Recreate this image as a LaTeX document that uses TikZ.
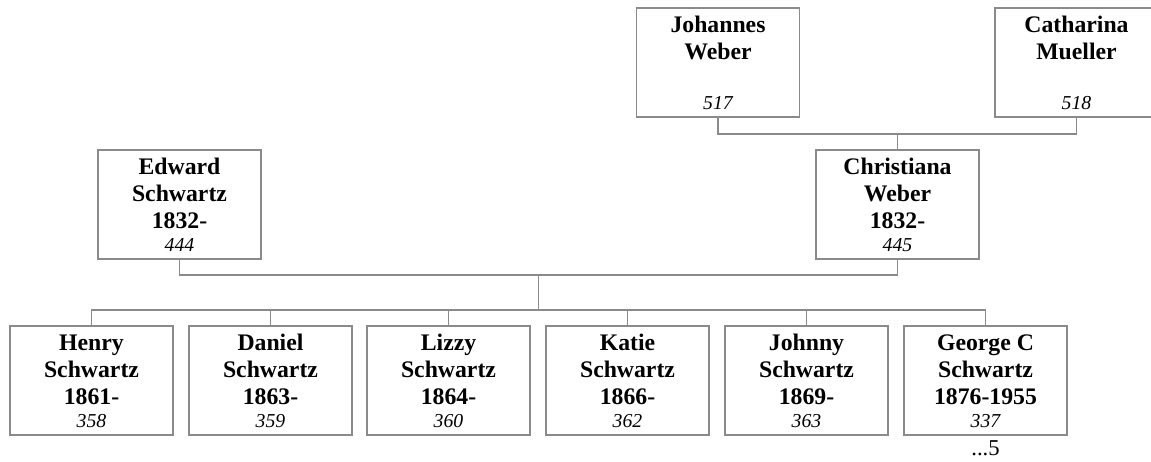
\documentclass[tikz,border=0pt]{standalone}
\usepackage{fontspec}
\setmainfont{Liberation Serif}
\definecolor{lncol}{HTML}{8A8A8A}
\tikzset{
  pbox/.style={draw=lncol, line width=0.9pt, minimum width=163*0.75pt, minimum height=109*0.75pt, inner sep=0pt, outer sep=0pt},
  nm/.style={font=\fontsize{17.8pt}{20pt}\selectfont\bfseries, inner sep=0pt, anchor=base},
  num/.style={font=\fontsize{14.8pt}{17pt}\selectfont\itshape, inner sep=0pt, anchor=base},
  conn/.style={draw=lncol, line width=0.9pt}
}
% #1 name, #2 x centre, #3 top y, #4 #5 #6 bold lines, #7 number
\newcommand{\persbox}[7]{%
  \node[pbox] (#1) at (#2,#3+54.5) {};
  \node[nm] (#1-a) at (#2,#3+24) {#4};
  \node[nm] (#1-b) at (#2,#3+51) {#5};
  \node[nm] (#1-c) at (#2,#3+78) {#6};
  \node[num] (#1-n) at (#2,#3+101.5) {#7};
}
\begin{document}
\begin{tikzpicture}[x=0.75pt,y=-0.75pt]
\useasboundingbox (0,0) rectangle (1151,461);
\begin{scope}
\clip (0,0) rectangle (1151,461);
\persbox{johannes}{718}{8}{Johannes}{Weber}{}{517}
\persbox{catharina}{1076.5}{8}{Catharina}{Mueller}{}{518}
\persbox{edward}{179.5}{150}{Edward}{Schwartz}{1832-}{444}
\persbox{christiana}{897.5}{150}{Christiana}{Weber}{1832-}{445}
\persbox{henry}{91.5}{326}{Henry}{Schwartz}{1861-}{358}
\persbox{daniel}{270.5}{326}{Daniel}{Schwartz}{1863-}{359}
\persbox{lizzy}{448.5}{326}{Lizzy}{Schwartz}{1864-}{360}
\persbox{katie}{627.5}{326}{Katie}{Schwartz}{1866-}{362}
\persbox{johnny}{806.5}{326}{Johnny}{Schwartz}{1869-}{363}
\persbox{george}{985.5}{326}{George C}{Schwartz}{1876-1955}{337}
\node[font=\fontsize{17pt}{19pt}\selectfont, inner sep=0pt, anchor=base] (more) at (985.5,455) {...5};

\coordinate (j1) at (897.5,134);
\draw[conn] (johannes.south) |- (j1) -| (catharina.south);
\draw[conn] (j1) -- (christiana.north);

\coordinate (p1) at (538.5,275);
\coordinate (p2) at (538.5,310);
\draw[conn] (edward.south) |- (p1) -| (christiana.south);
\draw[conn] (p1) -- (p2);
\draw[conn] (henry.north) |- (p2) -| (george.north);
\foreach \c in {daniel,lizzy,katie,johnny}
  \draw[conn] (\c.north) -- (\c.north |- p2);
\end{scope}
\end{tikzpicture}
\end{document}
